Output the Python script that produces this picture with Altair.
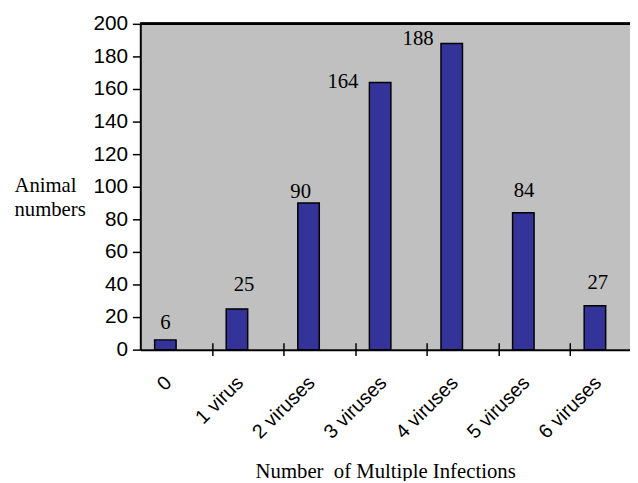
import json
import altair as alt
import pandas as pd

categories = ["0", "1 virus", "2 viruses", "3 viruses", "4 viruses", "5 viruses", "6 viruses"]
values = [6, 25, 90, 164, 188, 84, 27]
# label anchors (in band units / data units)
label_pos = [0.35, 1.45, 2.24, 2.83, 3.88, 5.36, 6.39]
label_height = [12.7, 35.9, 93.2, 160.6, 186.9, 93.5, 37.0]
y_ticks = list(range(0, 201, 20))

n = len(categories)
df = pd.DataFrame({
    "category": categories,
    "value": values,
    "idx": list(range(n)),
    "lx": label_pos,
    "ly": label_height,
})

xmax = 6.84
xscale = alt.Scale(domain=[0, xmax], nice=False, zero=False)
yscale = alt.Scale(domain=[0, 200], nice=False)

label_expr = json.dumps(categories) + "[floor(datum.value)]"

y_axis = alt.Axis(
    values=y_ticks, grid=False,
    domainColor="black", domainWidth=2,
    tickColor="black", tickWidth=1.5, tickSize=8,
    labelFont="Liberation Sans", labelFontSize=21, labelColor="black",
    labelPadding=5,
    title=["Animal", "numbers"], titleAngle=0, titleAlign="left",
    titleBaseline="alphabetic", titleX=-128, titleY=170,
    titleFont="Liberation Serif", titleFontSize=21, titleFontWeight="normal",
    titleColor="black", titleLineHeight=24,
)

base = alt.Chart(df)

bars = base.transform_calculate(
    x0="datum.idx + 0.2", x1="datum.idx + 0.5"
).mark_rect(color="#333399", stroke="black", strokeWidth=1.5).encode(
    x=alt.X("x0:Q", scale=xscale, axis=alt.Axis(
        orient="bottom",
        values=[i + 0.5 for i in range(n)],
        labelExpr=label_expr,
        ticks=False, tickSize=0,
        grid=False,
        domainColor="black", domainWidth=2,
        labelAngle=-45, labelAlign="right", labelBaseline="middle",
        labelFont="Liberation Sans", labelFontSize=20, labelColor="black",
        labelPadding=30, labelOffset=-8,
        title="Number\u00a0 of Multiple Infections",
        titleFont="Liberation Serif", titleFontSize=21, titleFontWeight="normal",
        titleColor="black", titleBaseline="alphabetic", titleY=129,
    )),
    x2="x1:Q",
    y=alt.Y("value:Q", scale=yscale, axis=y_axis),
    y2=alt.Y2Datum(0),
)

labels = base.mark_text(
    font="Liberation Serif", fontSize=21, color="black", baseline="alphabetic", align="center"
).encode(
    x=alt.X("lx:Q", scale=xscale, axis=alt.Axis(
        orient="bottom",
        values=list(range(1, n)),
        labels=False, domain=False, grid=False,
        ticks=True, tickSize=13, tickColor="black", tickWidth=1.5,
        offset=-7, title=None,
    )),
    y=alt.Y("ly:Q", scale=yscale, axis=y_axis),
    text="value:Q",
)

top_line = alt.Chart(df).mark_rule(color="black", strokeWidth=2).encode(
    y=alt.YDatum(200, scale=yscale, axis=y_axis),
)

chart = alt.layer(bars, labels, top_line).resolve_axis(x="independent").properties(
    width=496, height=330, autosize="none",
    padding={"left": 134, "top": 13, "right": 0, "bottom": 130},
    background="white",
).configure_view(fill="#C0C0C0", stroke=None)

chart.save("out.html", embed_options={"renderer": "svg", "actions": False})
